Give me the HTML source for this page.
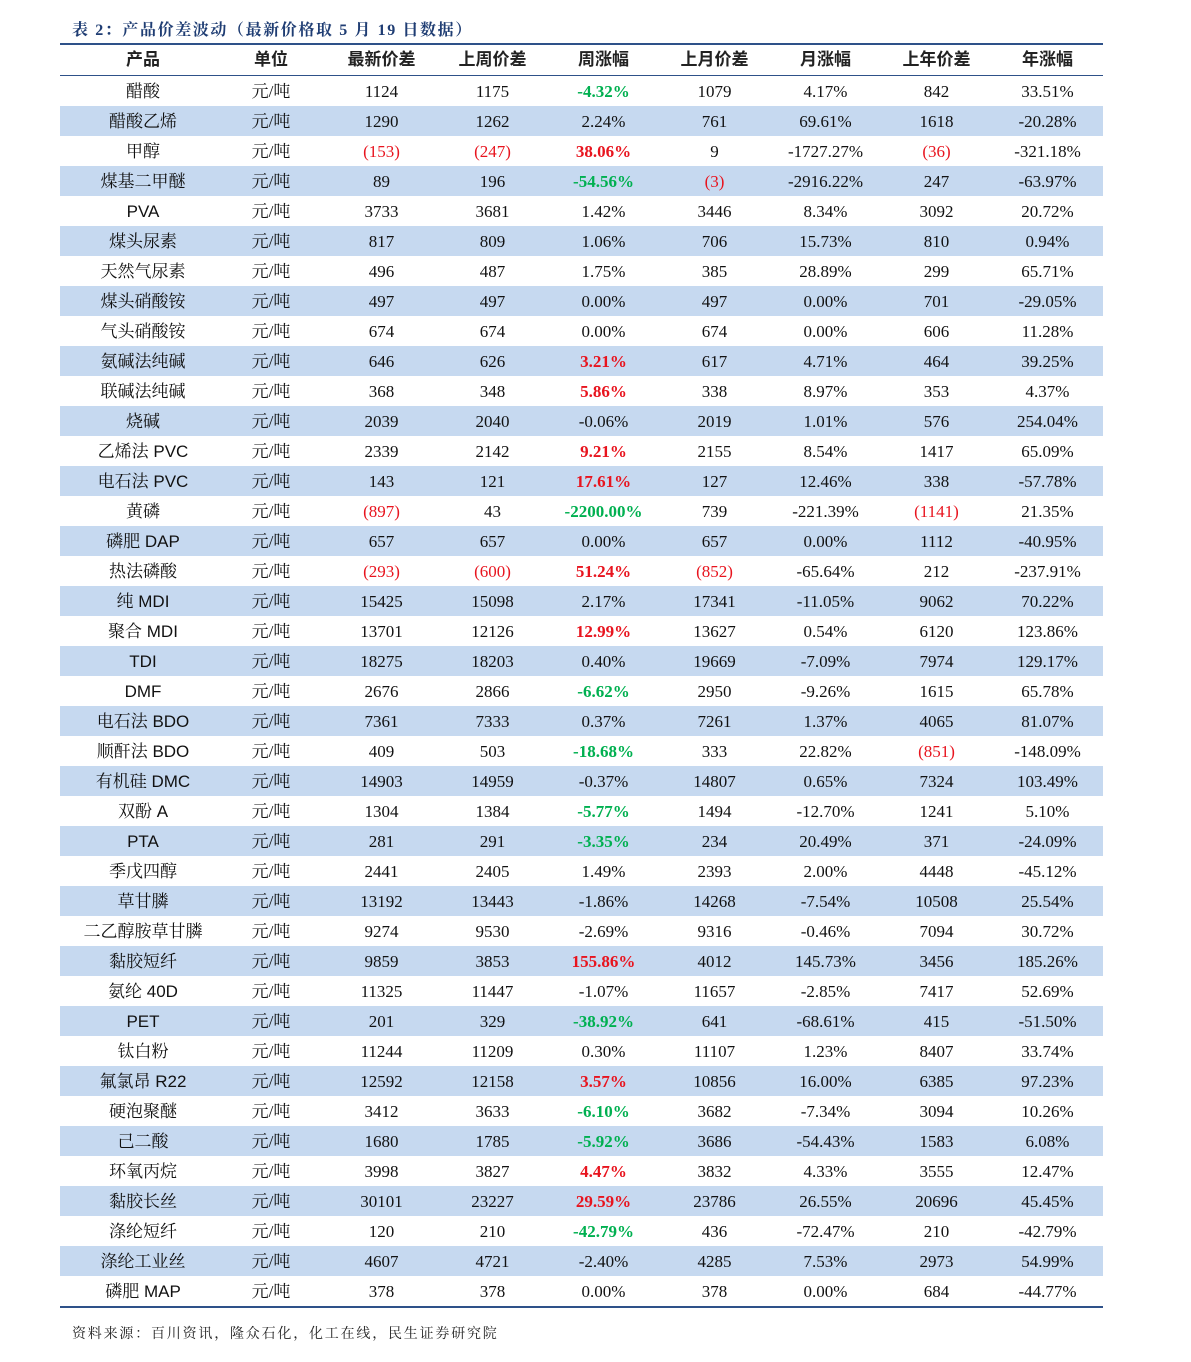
<!DOCTYPE html>
<html><head><meta charset="utf-8"><style>
body{margin:0;width:1191px;height:1362px;background:#fff;position:relative;font-family:"Liberation Serif","Noto Serif CJK SC",serif;}
.t{position:absolute;left:72px;top:17px;font-size:16px;font-weight:bold;color:#1f3d73;letter-spacing:1.6px;font-family:"Liberation Serif","Noto Serif CJK SC",serif;}
table{position:absolute;left:60px;top:43px;width:1043px;border-collapse:collapse;table-layout:fixed;border-top:2px solid #2e5189;border-bottom:2px solid #2e5189;}
tbody tr{height:30px;}
td,th{text-align:center;height:30px;line-height:24px;vertical-align:middle;padding:4px 0 2px 0;box-sizing:border-box;font-size:17px;color:#111;white-space:nowrap;overflow:hidden;}
th{height:31px;padding:0;line-height:30px;font-weight:bold;font-size:17px;font-family:"Liberation Sans","Noto Sans CJK SC",sans-serif;border-bottom:1px solid #2e5189;color:#222;}
td:first-child{font-family:"Liberation Sans","Noto Serif CJK SC",serif;}
td:nth-child(2){font-family:"Liberation Serif","Noto Serif CJK SC",serif;}
td:nth-child(2),th:nth-child(2){padding-right:10px;}
tr:nth-child(even) td{background:#c6d9f0;}
.R{color:#e8141e;font-weight:bold}.G{color:#00b050;font-weight:bold}.p{color:#e8141e}
.s{position:absolute;left:72px;top:1323px;font-size:14px;color:#222;letter-spacing:1.8px;font-family:"Liberation Serif","Noto Serif CJK SC",serif;}
</style></head><body>
<div class="t">表 2：产品价差波动（最新价格取 5 月 19 日数据）</div>
<table>
<colgroup><col style="width:166px"><col style="width:100px"><col span="7" style="width:111px"></colgroup>
<thead><tr><th>产品</th><th>单位</th><th>最新价差</th><th>上周价差</th><th>周涨幅</th><th>上月价差</th><th>月涨幅</th><th>上年价差</th><th>年涨幅</th></tr></thead>
<tbody>
<tr><td>醋酸</td><td>元/吨</td><td>1124</td><td>1175</td><td class="G">-4.32%</td><td>1079</td><td>4.17%</td><td>842</td><td>33.51%</td></tr>
<tr><td>醋酸乙烯</td><td>元/吨</td><td>1290</td><td>1262</td><td>2.24%</td><td>761</td><td>69.61%</td><td>1618</td><td>-20.28%</td></tr>
<tr><td>甲醇</td><td>元/吨</td><td class="p">(153)</td><td class="p">(247)</td><td class="R">38.06%</td><td>9</td><td>-1727.27%</td><td class="p">(36)</td><td>-321.18%</td></tr>
<tr><td>煤基二甲醚</td><td>元/吨</td><td>89</td><td>196</td><td class="G">-54.56%</td><td class="p">(3)</td><td>-2916.22%</td><td>247</td><td>-63.97%</td></tr>
<tr><td>PVA</td><td>元/吨</td><td>3733</td><td>3681</td><td>1.42%</td><td>3446</td><td>8.34%</td><td>3092</td><td>20.72%</td></tr>
<tr><td>煤头尿素</td><td>元/吨</td><td>817</td><td>809</td><td>1.06%</td><td>706</td><td>15.73%</td><td>810</td><td>0.94%</td></tr>
<tr><td>天然气尿素</td><td>元/吨</td><td>496</td><td>487</td><td>1.75%</td><td>385</td><td>28.89%</td><td>299</td><td>65.71%</td></tr>
<tr><td>煤头硝酸铵</td><td>元/吨</td><td>497</td><td>497</td><td>0.00%</td><td>497</td><td>0.00%</td><td>701</td><td>-29.05%</td></tr>
<tr><td>气头硝酸铵</td><td>元/吨</td><td>674</td><td>674</td><td>0.00%</td><td>674</td><td>0.00%</td><td>606</td><td>11.28%</td></tr>
<tr><td>氨碱法纯碱</td><td>元/吨</td><td>646</td><td>626</td><td class="R">3.21%</td><td>617</td><td>4.71%</td><td>464</td><td>39.25%</td></tr>
<tr><td>联碱法纯碱</td><td>元/吨</td><td>368</td><td>348</td><td class="R">5.86%</td><td>338</td><td>8.97%</td><td>353</td><td>4.37%</td></tr>
<tr><td>烧碱</td><td>元/吨</td><td>2039</td><td>2040</td><td>-0.06%</td><td>2019</td><td>1.01%</td><td>576</td><td>254.04%</td></tr>
<tr><td>乙烯法 PVC</td><td>元/吨</td><td>2339</td><td>2142</td><td class="R">9.21%</td><td>2155</td><td>8.54%</td><td>1417</td><td>65.09%</td></tr>
<tr><td>电石法 PVC</td><td>元/吨</td><td>143</td><td>121</td><td class="R">17.61%</td><td>127</td><td>12.46%</td><td>338</td><td>-57.78%</td></tr>
<tr><td>黄磷</td><td>元/吨</td><td class="p">(897)</td><td>43</td><td class="G">-2200.00%</td><td>739</td><td>-221.39%</td><td class="p">(1141)</td><td>21.35%</td></tr>
<tr><td>磷肥 DAP</td><td>元/吨</td><td>657</td><td>657</td><td>0.00%</td><td>657</td><td>0.00%</td><td>1112</td><td>-40.95%</td></tr>
<tr><td>热法磷酸</td><td>元/吨</td><td class="p">(293)</td><td class="p">(600)</td><td class="R">51.24%</td><td class="p">(852)</td><td>-65.64%</td><td>212</td><td>-237.91%</td></tr>
<tr><td>纯 MDI</td><td>元/吨</td><td>15425</td><td>15098</td><td>2.17%</td><td>17341</td><td>-11.05%</td><td>9062</td><td>70.22%</td></tr>
<tr><td>聚合 MDI</td><td>元/吨</td><td>13701</td><td>12126</td><td class="R">12.99%</td><td>13627</td><td>0.54%</td><td>6120</td><td>123.86%</td></tr>
<tr><td>TDI</td><td>元/吨</td><td>18275</td><td>18203</td><td>0.40%</td><td>19669</td><td>-7.09%</td><td>7974</td><td>129.17%</td></tr>
<tr><td>DMF</td><td>元/吨</td><td>2676</td><td>2866</td><td class="G">-6.62%</td><td>2950</td><td>-9.26%</td><td>1615</td><td>65.78%</td></tr>
<tr><td>电石法 BDO</td><td>元/吨</td><td>7361</td><td>7333</td><td>0.37%</td><td>7261</td><td>1.37%</td><td>4065</td><td>81.07%</td></tr>
<tr><td>顺酐法 BDO</td><td>元/吨</td><td>409</td><td>503</td><td class="G">-18.68%</td><td>333</td><td>22.82%</td><td class="p">(851)</td><td>-148.09%</td></tr>
<tr><td>有机硅 DMC</td><td>元/吨</td><td>14903</td><td>14959</td><td>-0.37%</td><td>14807</td><td>0.65%</td><td>7324</td><td>103.49%</td></tr>
<tr><td>双酚 A</td><td>元/吨</td><td>1304</td><td>1384</td><td class="G">-5.77%</td><td>1494</td><td>-12.70%</td><td>1241</td><td>5.10%</td></tr>
<tr><td>PTA</td><td>元/吨</td><td>281</td><td>291</td><td class="G">-3.35%</td><td>234</td><td>20.49%</td><td>371</td><td>-24.09%</td></tr>
<tr><td>季戊四醇</td><td>元/吨</td><td>2441</td><td>2405</td><td>1.49%</td><td>2393</td><td>2.00%</td><td>4448</td><td>-45.12%</td></tr>
<tr><td>草甘膦</td><td>元/吨</td><td>13192</td><td>13443</td><td>-1.86%</td><td>14268</td><td>-7.54%</td><td>10508</td><td>25.54%</td></tr>
<tr><td>二乙醇胺草甘膦</td><td>元/吨</td><td>9274</td><td>9530</td><td>-2.69%</td><td>9316</td><td>-0.46%</td><td>7094</td><td>30.72%</td></tr>
<tr><td>黏胶短纤</td><td>元/吨</td><td>9859</td><td>3853</td><td class="R">155.86%</td><td>4012</td><td>145.73%</td><td>3456</td><td>185.26%</td></tr>
<tr><td>氨纶 40D</td><td>元/吨</td><td>11325</td><td>11447</td><td>-1.07%</td><td>11657</td><td>-2.85%</td><td>7417</td><td>52.69%</td></tr>
<tr><td>PET</td><td>元/吨</td><td>201</td><td>329</td><td class="G">-38.92%</td><td>641</td><td>-68.61%</td><td>415</td><td>-51.50%</td></tr>
<tr><td>钛白粉</td><td>元/吨</td><td>11244</td><td>11209</td><td>0.30%</td><td>11107</td><td>1.23%</td><td>8407</td><td>33.74%</td></tr>
<tr><td>氟氯昂 R22</td><td>元/吨</td><td>12592</td><td>12158</td><td class="R">3.57%</td><td>10856</td><td>16.00%</td><td>6385</td><td>97.23%</td></tr>
<tr><td>硬泡聚醚</td><td>元/吨</td><td>3412</td><td>3633</td><td class="G">-6.10%</td><td>3682</td><td>-7.34%</td><td>3094</td><td>10.26%</td></tr>
<tr><td>己二酸</td><td>元/吨</td><td>1680</td><td>1785</td><td class="G">-5.92%</td><td>3686</td><td>-54.43%</td><td>1583</td><td>6.08%</td></tr>
<tr><td>环氧丙烷</td><td>元/吨</td><td>3998</td><td>3827</td><td class="R">4.47%</td><td>3832</td><td>4.33%</td><td>3555</td><td>12.47%</td></tr>
<tr><td>黏胶长丝</td><td>元/吨</td><td>30101</td><td>23227</td><td class="R">29.59%</td><td>23786</td><td>26.55%</td><td>20696</td><td>45.45%</td></tr>
<tr><td>涤纶短纤</td><td>元/吨</td><td>120</td><td>210</td><td class="G">-42.79%</td><td>436</td><td>-72.47%</td><td>210</td><td>-42.79%</td></tr>
<tr><td>涤纶工业丝</td><td>元/吨</td><td>4607</td><td>4721</td><td>-2.40%</td><td>4285</td><td>7.53%</td><td>2973</td><td>54.99%</td></tr>
<tr><td>磷肥 MAP</td><td>元/吨</td><td>378</td><td>378</td><td>0.00%</td><td>378</td><td>0.00%</td><td>684</td><td>-44.77%</td></tr>
</tbody></table>
<div class="s">资料来源：百川资讯，隆众石化，化工在线，民生证券研究院</div>
</body></html>
